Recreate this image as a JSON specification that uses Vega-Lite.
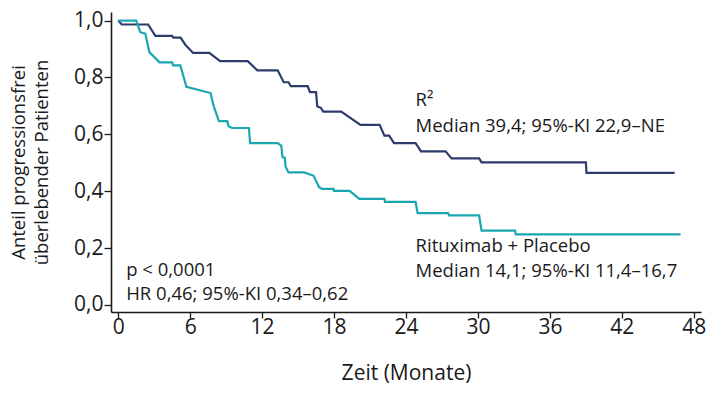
{
  "$schema": "https://vega.github.io/schema/vega-lite/v6.json",
  "width": 590,
  "height": 300,
  "autosize": "none",
  "padding": {"left": 111, "top": 12, "right": 19, "bottom": 81},
  "config": {"view": {"stroke": null}, "font": "Open Sans"},
  "datasets": {
    "curves": [
      {"group": "R2", "t": 0, "s": 1.0},
      {"group": "R2", "t": 0.3, "s": 0.986},
      {"group": "R2", "t": 2.5, "s": 0.986},
      {"group": "R2", "t": 3.1, "s": 0.946},
      {"group": "R2", "t": 4.5, "s": 0.946},
      {"group": "R2", "t": 4.6, "s": 0.940},
      {"group": "R2", "t": 5.2, "s": 0.940},
      {"group": "R2", "t": 5.6, "s": 0.915},
      {"group": "R2", "t": 6.25, "s": 0.886},
      {"group": "R2", "t": 7.6, "s": 0.886},
      {"group": "R2", "t": 8.5, "s": 0.857},
      {"group": "R2", "t": 10.8, "s": 0.857},
      {"group": "R2", "t": 11.6, "s": 0.825},
      {"group": "R2", "t": 13.3, "s": 0.825},
      {"group": "R2", "t": 13.8, "s": 0.783},
      {"group": "R2", "t": 14.2, "s": 0.783},
      {"group": "R2", "t": 14.4, "s": 0.769},
      {"group": "R2", "t": 15.8, "s": 0.769},
      {"group": "R2", "t": 16.0, "s": 0.748},
      {"group": "R2", "t": 16.5, "s": 0.748},
      {"group": "R2", "t": 16.6, "s": 0.698},
      {"group": "R2", "t": 16.9, "s": 0.693},
      {"group": "R2", "t": 17.1, "s": 0.680},
      {"group": "R2", "t": 18.6, "s": 0.680},
      {"group": "R2", "t": 20.2, "s": 0.633},
      {"group": "R2", "t": 21.8, "s": 0.633},
      {"group": "R2", "t": 22.2, "s": 0.595},
      {"group": "R2", "t": 22.6, "s": 0.595},
      {"group": "R2", "t": 23.0, "s": 0.569},
      {"group": "R2", "t": 24.8, "s": 0.569},
      {"group": "R2", "t": 25.25, "s": 0.540},
      {"group": "R2", "t": 27.3, "s": 0.540},
      {"group": "R2", "t": 27.8, "s": 0.515},
      {"group": "R2", "t": 30.1, "s": 0.515},
      {"group": "R2", "t": 30.3, "s": 0.501},
      {"group": "R2", "t": 39.0, "s": 0.501},
      {"group": "R2", "t": 39.05, "s": 0.464},
      {"group": "R2", "t": 46.4, "s": 0.464},
      {"group": "RP", "t": 0, "s": 1.0},
      {"group": "RP", "t": 1.5, "s": 1.0},
      {"group": "RP", "t": 1.84, "s": 0.959},
      {"group": "RP", "t": 2.26, "s": 0.954},
      {"group": "RP", "t": 2.6, "s": 0.889},
      {"group": "RP", "t": 3.45, "s": 0.853},
      {"group": "RP", "t": 4.5, "s": 0.853},
      {"group": "RP", "t": 4.57, "s": 0.842},
      {"group": "RP", "t": 5.18, "s": 0.842},
      {"group": "RP", "t": 5.69, "s": 0.767},
      {"group": "RP", "t": 7.7, "s": 0.745},
      {"group": "RP", "t": 7.97, "s": 0.698},
      {"group": "RP", "t": 8.4, "s": 0.646},
      {"group": "RP", "t": 9.1, "s": 0.646},
      {"group": "RP", "t": 9.2, "s": 0.628},
      {"group": "RP", "t": 9.5, "s": 0.622},
      {"group": "RP", "t": 10.9, "s": 0.622},
      {"group": "RP", "t": 11.0, "s": 0.569},
      {"group": "RP", "t": 13.3, "s": 0.569},
      {"group": "RP", "t": 13.6, "s": 0.560},
      {"group": "RP", "t": 13.7, "s": 0.520},
      {"group": "RP", "t": 13.9, "s": 0.517},
      {"group": "RP", "t": 13.95, "s": 0.487},
      {"group": "RP", "t": 14.2, "s": 0.466},
      {"group": "RP", "t": 15.5, "s": 0.466},
      {"group": "RP", "t": 16.3, "s": 0.454},
      {"group": "RP", "t": 16.75, "s": 0.414},
      {"group": "RP", "t": 17.0, "s": 0.408},
      {"group": "RP", "t": 17.95, "s": 0.408},
      {"group": "RP", "t": 18.0, "s": 0.401},
      {"group": "RP", "t": 19.3, "s": 0.401},
      {"group": "RP", "t": 20.1, "s": 0.373},
      {"group": "RP", "t": 22.2, "s": 0.373},
      {"group": "RP", "t": 22.25, "s": 0.362},
      {"group": "RP", "t": 24.8, "s": 0.362},
      {"group": "RP", "t": 24.97, "s": 0.323},
      {"group": "RP", "t": 27.5, "s": 0.323},
      {"group": "RP", "t": 27.6, "s": 0.315},
      {"group": "RP", "t": 30.1, "s": 0.315},
      {"group": "RP", "t": 30.3, "s": 0.261},
      {"group": "RP", "t": 33.1, "s": 0.261},
      {"group": "RP", "t": 33.15, "s": 0.248},
      {"group": "RP", "t": 46.9, "s": 0.248}
    ],
    "notes": [
      {"label": "R²", "t": 24.8, "s": 0.722},
      {"label": "Median 39,4; 95%-KI 22,9–NE", "t": 24.8, "s": 0.630},
      {"label": "Rituximab + Placebo", "t": 24.8, "s": 0.208},
      {"label": "Median 14,1; 95%-KI 11,4–16,7", "t": 24.8, "s": 0.120},
      {"label": "p < 0,0001", "t": 0.67, "s": 0.123},
      {"label": "HR 0,46; 95%-KI 0,34–0,62", "t": 0.67, "s": 0.039}
    ]
  },
  "layer": [
    {
      "data": {"name": "curves"},
      "mark": {"type": "line", "strokeWidth": 2.2, "interpolate": "linear"},
      "encoding": {
        "x": {
          "field": "t", "type": "quantitative",
          "scale": {"domain": [-0.6, 48.6], "nice": false, "zero": false},
          "axis": {
            "title": "Zeit (Monate)",
            "values": [0, 6, 12, 18, 24, 30, 36, 42, 48],
            "grid": false,
            "domainColor": "#1a1a1a", "domainWidth": 1.6,
            "tickColor": "#1a1a1a", "tickWidth": 1.3, "tickSize": 6,
            "labelFont": "Open Sans",
            "labelFontSize": 21, "labelColor": "#1a1a1a", "labelPadding": -2,
            "titleFont": "Open Sans", "titleFontSize": 21, "titleFontWeight": "normal",
            "titleColor": "#1a1a1a", "titlePadding": 25
          }
        },
        "y": {
          "field": "s", "type": "quantitative",
          "scale": {"domain": [-0.025, 1.03], "nice": false, "zero": false},
          "axis": {
            "title": ["Anteil progressionsfrei", "überlebender Patienten"],
            "values": [0, 0.1, 0.2, 0.3, 0.4, 0.5, 0.6, 0.7, 0.8, 0.9, 1.0],
            "labelExpr": "round(datum.value*10) % 2 == 0 ? replace(format(datum.value, '.1f'), '.', ',') : ''",
            "grid": false,
            "domainColor": "#1a1a1a", "domainWidth": 1.6,
            "tickColor": "#1a1a1a", "tickWidth": 1.3, "tickSize": 7,
            "labelFont": "Open Sans",
            "labelFontSize": 21, "labelColor": "#1a1a1a", "labelPadding": 1,
            "titleFont": "Open Sans", "titleFontSize": 18.5, "titleFontWeight": "normal",
            "titleColor": "#1a1a1a", "titlePadding": 22, "titleLineHeight": 23
          }
        },
        "color": {
          "field": "group", "type": "nominal",
          "scale": {"domain": ["R2", "RP"], "range": ["#2c3c6d", "#1aa7b0"]},
          "legend": null
        }
      }
    },
    {
      "data": {"name": "notes"},
      "mark": {"type": "text", "align": "left", "baseline": "middle", "font": "Open Sans", "fontSize": 18.5, "color": "#1a1a1a"},
      "encoding": {
        "x": {"field": "t", "type": "quantitative"},
        "y": {"field": "s", "type": "quantitative"},
        "text": {"field": "label"}
      }
    }
  ]
}
